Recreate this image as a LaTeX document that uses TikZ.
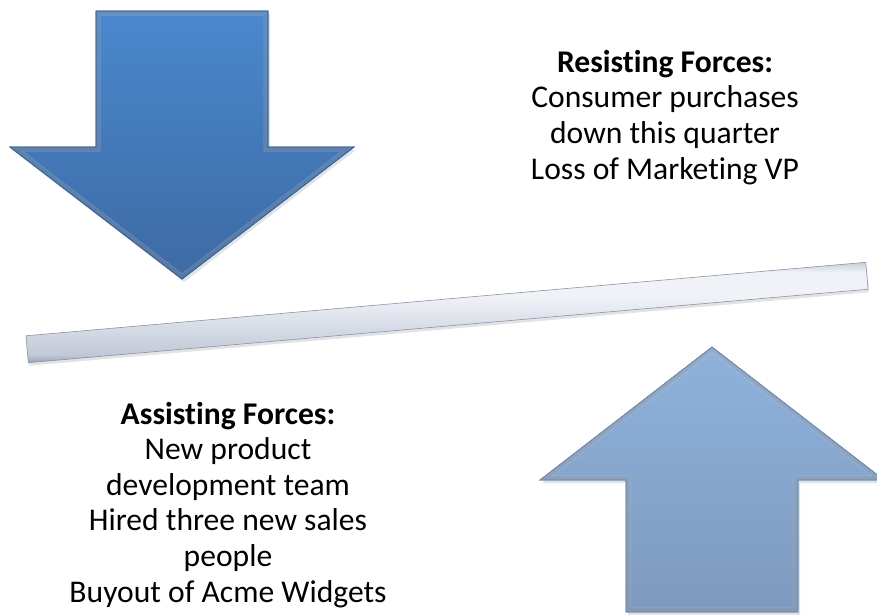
\documentclass[tikz,border=0pt]{standalone}
\usepackage{fontspec}
\setmainfont[Ligatures=NoCommon]{Carlito}
\usepackage{xcolor}
\usepackage{tikz}
\usetikzlibrary{calc}
\usetikzlibrary{shadows}
\usetikzlibrary{positioning}

\definecolor{pushtop}{HTML}{4A88CE}
\definecolor{pushbot}{HTML}{3D6AA3}
\definecolor{pushline}{HTML}{36619A}
\definecolor{lifttop}{HTML}{8EB2DC}
\definecolor{liftbot}{HTML}{7E99BD}
\definecolor{liftline}{HTML}{6D8CB5}
\definecolor{levdark}{HTML}{9AA3B4}
\definecolor{levlow}{HTML}{C2C9D6}
\definecolor{levmid}{HTML}{D5DBE6}
\definecolor{levlight}{HTML}{F0F2F7}
\definecolor{levedge}{HTML}{C8CED8}
\definecolor{levline}{HTML}{8A93A4}

\pgfdeclareverticalshading{leverfill}{100bp}{color(0bp)=(levdark); color(25bp)=(levdark);
	color(29bp)=(levlow); color(42bp)=(levmid); color(58bp)=(levlight); color(70bp)=(levlight);
	color(75bp)=(levedge); color(100bp)=(levedge)}

\tikzset{
	forcebox/.style={align=center,anchor=base,inner sep=0pt,
		font=\fontsize{31.6}{35.6}\selectfont},
	forcearrow/.style={draw=#1line,line width=.8pt,line join=miter,
		top color=#1top,bottom color=#1bot,
		drop shadow={opacity=.22,shadow xshift=2pt,shadow yshift=-3pt}},
	bevellight/.style={draw=white,opacity=.22,line width=9pt},
	beveldark/.style={draw=black,opacity=.12,line width=8pt},
	leverbar/.style={rectangle,draw=levline,line width=.6pt,shading=leverfill,
		minimum width=843pt,minimum height=27pt,inner sep=0pt,rotate=5,
		drop shadow={opacity=.22,shadow xshift=1pt,shadow yshift=-3pt}}
}

\begin{document}
\begin{tikzpicture}[x=1pt,y=-1pt]
		  \useasboundingbox (0,0) rectangle (877,614);
		  % the two force arrows: centre / tail / shoulder / tip / colours
		  \foreach \cx/\tail/\shoulder/\tip/\hue in {
		  		182/11/147/279/push,
		  		712/612/480/347/lift}{
		  	\coordinate (\hue-a) at (\cx-86,\tail);
		  	\coordinate (\hue-b) at (\cx-86,\shoulder);
		  	\coordinate (\hue-c) at (\cx-172,\shoulder);
		  	\coordinate (\hue-tip) at (\cx,\tip);
		  	\coordinate (\hue-d) at (\cx+172,\shoulder);
		  	\coordinate (\hue-e) at (\cx+86,\shoulder);
		  	\coordinate (\hue-f) at (\cx+86,\tail);
		  	\draw[forcearrow=\hue] (\hue-a) -- (\hue-b) -- (\hue-c) -- (\hue-tip) -- (\hue-d) -- (\hue-e) -- (\hue-f) -- cycle;
		  	% bevel: light rim, darker lower edges
		  	\begin{scope}
		  		\clip (\hue-a) -- (\hue-b) -- (\hue-c) -- (\hue-tip) -- (\hue-d) -- (\hue-e) -- (\hue-f) -- cycle;
		  		\draw[bevellight] (\hue-a) -- (\hue-b) -- (\hue-c) -- (\hue-tip) -- (\hue-d) -- (\hue-e) -- (\hue-f) -- cycle;
		  		\draw[beveldark,shift={(-3,-3)}] (\hue-a) -- (\hue-b) -- (\hue-c) -- (\hue-tip) -- (\hue-d) -- (\hue-e) -- (\hue-f) -- cycle;
		  	\end{scope}
		  	\draw[draw=\hue line,line width=.8pt] (\hue-a) -- (\hue-b) -- (\hue-c) -- (\hue-tip) -- (\hue-d) -- (\hue-e) -- (\hue-f) -- cycle;
		  }
		  % the tilted lever
		  \node[leverbar] (lever) at (447,312.5) {};
		  % texts (base = last line)
		  \node[forcebox] (resisting) at (665,179) {\textbf{Resisting Forces:}\\Consumer purchases\\down this quarter\\Loss of Marketing VP};
		  \node[forcebox] (assisting) at (228,602) {\textbf{Assisting Forces:}\\New product\\development team\\Hired three new sales\\people\\Buyout of Acme Widgets};
		 \end{tikzpicture}
\end{document}
